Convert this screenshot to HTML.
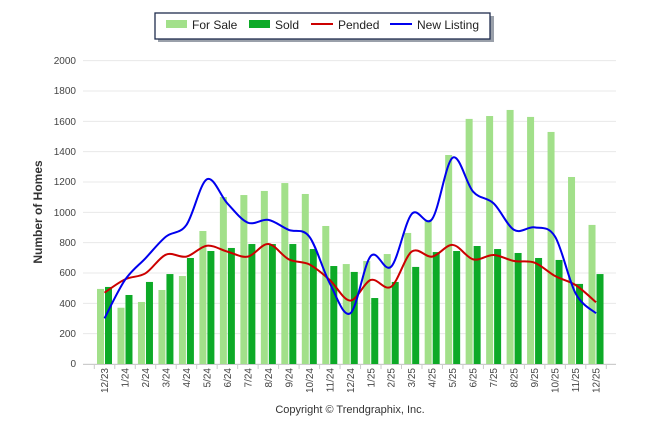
<!DOCTYPE html>
<html><head><meta charset="utf-8"><style>
body{margin:0;background:#fff;width:646px;height:434px;overflow:hidden;font-family:"Liberation Sans",sans-serif}
svg{position:absolute;left:0;top:0}
</style></head><body>
<svg id="s" width="646" height="434" xmlns="http://www.w3.org/2000/svg" font-family="Liberation Sans, sans-serif">
<rect x="158" y="16" width="336" height="26" fill="#9aa0aa"/>
<rect x="155" y="13" width="335" height="26" fill="#fff" stroke="#1f2d4d" stroke-width="1.3"/>
<rect x="166" y="20" width="21" height="8" fill="#a2e08a"/>
<text x="192" y="29" font-size="12" fill="#222">For Sale</text>
<rect x="249" y="20" width="21" height="8" fill="#0daa27"/>
<text x="275" y="29" font-size="12" fill="#222">Sold</text>
<line x1="311" y1="24" x2="333" y2="24" stroke="#cc0000" stroke-width="2"/>
<text x="338" y="29" font-size="12" fill="#222">Pended</text>
<line x1="390" y1="24" x2="412" y2="24" stroke="#0000ee" stroke-width="2"/>
<text x="417" y="29" font-size="12" fill="#222">New Listing</text>
<g id="grid" stroke="#e8e8e8" stroke-width="1"></g>
<g font-size="10" fill="#444" text-anchor="end">
<text x="76" y="64">2000</text><text x="76" y="94">1800</text><text x="76" y="125">1600</text><text x="76" y="155">1400</text><text x="76" y="185">1200</text><text x="76" y="216">1000</text><text x="76" y="246">800</text><text x="76" y="276">600</text><text x="76" y="307">400</text><text x="76" y="337">200</text><text x="76" y="367">0</text>
</g>
<text transform="translate(42,212) rotate(-90)" font-size="12" font-weight="bold" fill="#333" text-anchor="middle">Number of Homes</text>
<g id="bars"></g>
<g id="lines"></g>
<g font-size="10" fill="#444" text-anchor="end" id="xl">
<text transform="translate(108,368) rotate(-90)">12/23</text>
<text transform="translate(128.5,368) rotate(-90)">1/24</text>
<text transform="translate(149,368) rotate(-90)">2/24</text>
<text transform="translate(169.5,368) rotate(-90)">3/24</text>
<text transform="translate(190,368) rotate(-90)">4/24</text>
<text transform="translate(210.4,368) rotate(-90)">5/24</text>
<text transform="translate(230.9,368) rotate(-90)">6/24</text>
<text transform="translate(251.4,368) rotate(-90)">7/24</text>
<text transform="translate(271.9,368) rotate(-90)">8/24</text>
<text transform="translate(292.3,368) rotate(-90)">9/24</text>
<text transform="translate(312.8,368) rotate(-90)">10/24</text>
<text transform="translate(333.3,368) rotate(-90)">11/24</text>
<text transform="translate(353.8,368) rotate(-90)">12/24</text>
<text transform="translate(374.3,368) rotate(-90)">1/25</text>
<text transform="translate(394.7,368) rotate(-90)">2/25</text>
<text transform="translate(415.2,368) rotate(-90)">3/25</text>
<text transform="translate(435.7,368) rotate(-90)">4/25</text>
<text transform="translate(456.2,368) rotate(-90)">5/25</text>
<text transform="translate(476.6,368) rotate(-90)">6/25</text>
<text transform="translate(497.1,368) rotate(-90)">7/25</text>
<text transform="translate(517.6,368) rotate(-90)">8/25</text>
<text transform="translate(538.1,368) rotate(-90)">9/25</text>
<text transform="translate(558.6,368) rotate(-90)">10/25</text>
<text transform="translate(579,368) rotate(-90)">11/25</text>
<text transform="translate(599.5,368) rotate(-90)">12/25</text>
</g>
<text x="350" y="413" font-size="11" fill="#333" text-anchor="middle">Copyright © Trendgraphix, Inc.</text>
</svg>
<script>
var NS="http://www.w3.org/2000/svg";
function el(t,a,p){var e=document.createElementNS(NS,t);for(var k in a)e.setAttribute(k,a[k]);document.getElementById(p).appendChild(e);return e;}
function Y(v){return 364-v*0.15167;}
for(var i=0;i<=10;i++){var y=Y(i*200);el("line",{x1:83,x2:616,y1:y,y2:y},"grid");}
el("line",{x1:83,x2:616,y1:364.5,y2:364.5,stroke:"#ccc"},"grid");
for(var i=0;i<=25;i++){var x=94.3+i*20.48;el("line",{x1:x,x2:x,y1:364,y2:369,stroke:"#ccc"},"grid");}
var fs=[495,371,409,488,580,877,1101,1114,1141,1193,1121,910,659,679,725,864,950,1378,1616,1635,1675,1629,1530,1233,917];
var sd=[508,455,541,593,699,745,765,791,791,791,758,646,607,435,541,640,738,745,778,758,732,699,686,528,593];
var pd=[470,558,598,721,708,780,741,708,791,690,657,554,418,554,510,741,708,785,690,719,679,668,580,521,407];
var nl=[301,554,697,840,917,1218,1059,932,950,884,840,532,334,712,642,989,956,1360,1136,1059,884,901,840,466,334];
function cx(i){return 104.5+i*20.48;}
for(var i=0;i<25;i++){var c=cx(i);
el("rect",{x:c-7.5,y:Y(fs[i]),width:7,height:364-Y(fs[i]),fill:"#a2e08a"},"bars");
el("rect",{x:c+0.5,y:Y(sd[i]),width:7,height:364-Y(sd[i]),fill:"#0daa27"},"bars");}
function path(d){var p=d.map(function(v,i){return [cx(i),Y(v)]});var s="M"+p[0][0]+","+p[0][1];
for(var i=0;i<p.length-1;i++){var p0=p[Math.max(0,i-1)],p1=p[i],p2=p[i+1],p3=p[Math.min(p.length-1,i+2)];
s+=" C"+(p1[0]+(p2[0]-p0[0])/6)+","+(p1[1]+(p2[1]-p0[1])/6)+" "+(p2[0]-(p3[0]-p1[0])/6)+","+(p2[1]-(p3[1]-p1[1])/6)+" "+p2[0]+","+p2[1];}return s;}
el("path",{d:path(pd),fill:"none",stroke:"#cc0000","stroke-width":2},"lines");
el("path",{d:path(nl),fill:"none",stroke:"#0000ee","stroke-width":2},"lines");
</script>
</body></html>
